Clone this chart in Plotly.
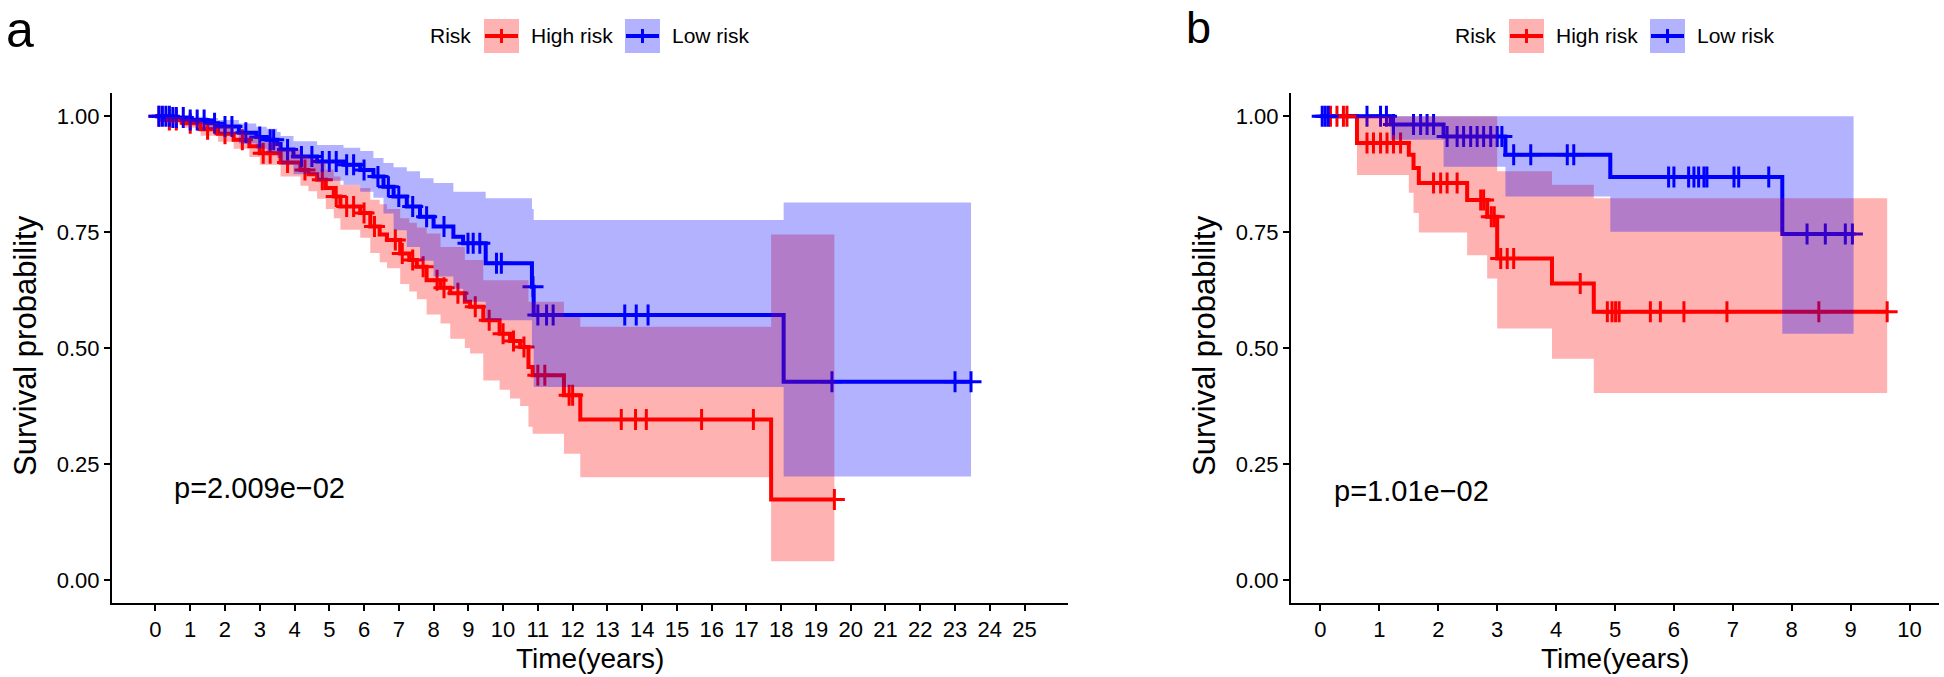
import numpy as np
import plotly.graph_objects as go

# ---------------- data ----------------
# Panel a, High risk
times_hi_a = [0, 0.3, 0.8, 1.3, 1.8, 2.25, 2.7, 3.0, 3.6, 4.17, 4.4, 4.65, 4.9, 5.13, 5.32, 5.89, 6.18, 6.45,
              6.66, 7.04, 7.3, 7.52, 7.8, 8.2, 8.48, 8.9, 9.05, 9.43, 9.9, 10.2, 10.49, 10.73, 10.85, 11.75, 12.22, 17.71]
surv_hi_a = [1.0, 0.992, 0.985, 0.972, 0.962, 0.949, 0.935, 0.92, 0.90, 0.884, 0.875, 0.863, 0.845, 0.827, 0.805,
             0.791, 0.762, 0.745, 0.733, 0.704, 0.69, 0.675, 0.646, 0.630, 0.618, 0.60, 0.589, 0.56, 0.531, 0.515,
             0.502, 0.459, 0.441, 0.398, 0.346, 0.173]
lower_hi_a = [1.0, 0.985, 0.975, 0.958, 0.945, 0.93, 0.912, 0.895, 0.87, 0.85, 0.838, 0.822, 0.80, 0.78, 0.755,
              0.738, 0.705, 0.685, 0.672, 0.638, 0.622, 0.605, 0.572, 0.553, 0.52, 0.50, 0.488, 0.43, 0.41, 0.391,
              0.375, 0.33, 0.315, 0.272, 0.221, 0.04]
upper_hi_a = [1.0, 0.998, 0.994, 0.985, 0.978, 0.966, 0.956, 0.944, 0.928, 0.915, 0.909, 0.90, 0.885, 0.87, 0.852,
              0.845, 0.82, 0.81, 0.80, 0.78, 0.77, 0.76, 0.747, 0.718, 0.718, 0.69, 0.69, 0.646, 0.646, 0.646,
              0.646, 0.60, 0.60, 0.567, 0.546, 0.745]
end_hi_a = 19.53
censor_hi_a = [0.1, 0.4, 0.6, 1.0, 1.5, 2.0, 2.5, 3.1, 3.3, 3.8, 4.3, 4.8, 5.2, 5.5, 5.7, 6.0, 6.3, 6.9, 7.1,
               7.4, 7.7, 8.1, 8.3, 8.7, 9.2, 9.6, 10.0, 10.3, 10.6, 11.0, 11.2, 11.9, 12.0, 13.4, 13.81, 14.12,
               15.71, 17.2, 19.53]

# Panel a, Low risk
times_lo_a = [0, 0.5, 1.0, 1.5, 1.8, 2.4, 2.9, 3.2, 3.5, 3.6, 3.97, 4.65, 5.41, 5.89, 6.27, 6.56, 6.85, 7.23,
              7.61, 8.0, 8.57, 8.85, 9.5, 10.83, 10.88, 18.07]
surv_lo_a = [1.0, 0.997, 0.992, 0.985, 0.978, 0.964, 0.955, 0.949, 0.94, 0.928, 0.913, 0.902, 0.895, 0.884, 0.87,
             0.848, 0.827, 0.805, 0.783, 0.762, 0.74, 0.726, 0.683, 0.632, 0.571, 0.427]
upper_lo_a = [1.0, 1.0, 0.999, 0.996, 0.992, 0.984, 0.977, 0.973, 0.966, 0.957, 0.946, 0.938, 0.932, 0.925, 0.91,
              0.899, 0.89, 0.881, 0.866, 0.856, 0.837, 0.837, 0.823, 0.80, 0.776, 0.814]
lower_lo_a = [1.0, 0.993, 0.983, 0.972, 0.962, 0.941, 0.930, 0.921, 0.91, 0.895, 0.875, 0.861, 0.852, 0.837,
              0.824, 0.79, 0.754, 0.718, 0.688, 0.654, 0.628, 0.60, 0.56, 0.50, 0.416, 0.223]
end_lo_a = 23.46
censor_lo_a = [0.1, 0.2, 0.3, 0.4, 0.5, 0.6, 0.8, 1.0, 1.2, 1.4, 1.7, 2.0, 2.2, 2.6, 3.0, 3.3, 3.4, 3.8, 4.2,
               4.5, 4.8, 5.0, 5.2, 5.5, 5.7, 6.0, 6.4, 6.7, 7.0, 7.4, 7.8, 8.3, 8.99, 9.14, 9.33, 9.81, 9.95,
               10.86, 11.0, 11.25, 11.44, 13.5, 13.83, 14.17, 19.46, 23.0, 23.46]

# Panel b, High risk
times_hi_b = [0, 0.62, 1.5, 1.58, 1.67, 2.49, 2.83, 3.0, 3.93, 4.64]
surv_hi_b = [1.0, 0.942, 0.917, 0.888, 0.856, 0.819, 0.783, 0.693, 0.639, 0.578]
upper_hi_b = [1.0, 1.0, 1.0, 1.0, 1.0, 1.0, 1.0, 0.881, 0.852, 0.823]
lower_hi_b = [1.0, 0.873, 0.835, 0.791, 0.749, 0.70, 0.65, 0.542, 0.477, 0.403]
end_hi_b = 9.62
censor_hi_b = [0.17, 0.28, 0.39, 0.45, 0.79, 0.9, 1.02, 1.13, 1.24, 1.36, 1.92, 2.04, 2.15, 2.32, 2.72, 2.77,
               2.9, 2.95, 3.06, 3.17, 3.28, 4.41, 4.87, 4.95, 5.01, 5.07, 5.6, 5.77, 6.17, 6.9, 8.46, 9.62]

# Panel b, Low risk
times_lo_b = [0, 1.19, 2.09, 3.14, 4.92, 7.84]
surv_lo_b = [1.0, 0.982, 0.956, 0.917, 0.869, 0.746]
upper_lo_b = [1.0, 1.0, 1.0, 1.0, 1.0, 1.0]
lower_lo_b = [1.0, 0.949, 0.891, 0.827, 0.751, 0.531]
end_lo_b = 9.05
censor_lo_b = [0.03, 0.08, 0.13, 0.79, 1.02, 1.12, 1.24, 1.58, 1.7, 1.81, 1.92, 2.15, 2.32, 2.43, 2.55, 2.66,
               2.77, 2.89, 3.0, 3.08, 3.28, 3.57, 4.19, 4.3, 5.91, 6.0, 6.25, 6.34, 6.42, 6.51, 6.56, 7.02, 7.1,
               7.61, 8.26, 8.57, 8.91, 9.03]

groups = ["High risk", "Low risk"]
legend_title = "Risk"
pvals = ["p=2.009e\u221202", "p=1.01e\u221202"]
xticks_a = list(range(0, 26))
xticks_b = list(range(0, 11))
yticks = [0.0, 0.25, 0.5, 0.75, 1.0]

# ---------------- styling ----------------
W, H = 1944, 677
FONT = "Liberation Sans, Arial, sans-serif"
RED, BLUE = "#FF0000", "#0000FF"
RED_F, BLUE_F = "rgba(255,0,0,0.3)", "rgba(0,0,255,0.3)"


def pxx(x):
    return x / W


def pxy(y):
    return 1 - y / H


def step_xy(times, vals, end):
    xs, ys = [], []
    for i, (t, v) in enumerate(zip(times, vals)):
        tn = times[i + 1] if i + 1 < len(times) else end
        xs += [t, tn]
        ys += [v, v]
    return xs, ys


def surv_at(times, vals, ts):
    idx = np.searchsorted(np.array(times), np.array(ts), side="right") - 1
    return [vals[i] for i in idx]


fig = go.Figure()


def add_panel(xa, ya, hi, lo):
    # hi / lo: (times, surv, upper, lower, end, censors)
    for (t, s, u, l, e, c), col in ((hi, RED), (lo, BLUE)):
        fig.add_trace(go.Scatter(x=list(t) + [e], y=list(s) + [s[-1]], mode="lines",
                                 line=dict(color=col, width=4, shape="hv"),
                                 xaxis=xa, yaxis=ya, showlegend=False, hoverinfo="skip"))
    for (t, s, u, l, e, c), col in ((hi, RED), (lo, BLUE)):
        fig.add_trace(go.Scatter(x=c, y=surv_at(t, s, c), mode="markers",
                                 marker=dict(symbol="cross-thin", size=15, line=dict(color=col, width=3)),
                                 xaxis=xa, yaxis=ya, showlegend=False, hoverinfo="skip"))
    for (t, s, u, l, e, c), fc in ((hi, RED_F), (lo, BLUE_F)):
        ux, uy = step_xy(t, u, e)
        lx, ly = step_xy(t, l, e)
        fig.add_trace(go.Scatter(x=ux + lx[::-1], y=uy + ly[::-1], mode="lines", fill="toself",
                                 fillcolor=fc, line=dict(width=0, color=fc),
                                 xaxis=xa, yaxis=ya, showlegend=False, hoverinfo="skip"))


add_panel("x", "y",
          (times_hi_a, surv_hi_a, upper_hi_a, lower_hi_a, end_hi_a, censor_hi_a),
          (times_lo_a, surv_lo_a, upper_lo_a, lower_lo_a, end_lo_a, censor_lo_a))
add_panel("x2", "y2",
          (times_hi_b, surv_hi_b, upper_hi_b, lower_hi_b, end_hi_b, censor_hi_b),
          (times_lo_b, surv_lo_b, upper_lo_b, lower_lo_b, end_lo_b, censor_lo_b))

ydom = [pxy(603), pxy(93)]
axis_common = dict(showline=True, linecolor="black", linewidth=2, ticks="outside", ticklen=6,
                   tickwidth=2, tickcolor="black", showgrid=False, zeroline=False,
                   tickfont=dict(family=FONT, size=22, color="black"), mirror=False)

fig.update_layout(
    width=W, height=H, margin=dict(l=0, r=0, t=0, b=0),
    paper_bgcolor="white", plot_bgcolor="white",
    xaxis=dict(domain=[pxx(112), pxx(1068)], range=[-1.25, 26.25], tickvals=xticks_a,
               anchor="y", **axis_common),
    yaxis=dict(domain=ydom, range=[-0.05, 1.05], tickvals=yticks, tickformat=".2f",
               anchor="x", **axis_common),
    xaxis2=dict(domain=[pxx(1291), pxx(1939)], range=[-0.5, 10.5], tickvals=xticks_b,
                anchor="y2", **axis_common),
    yaxis2=dict(domain=ydom, range=[-0.05, 1.05], tickvals=yticks, tickformat=".2f",
                anchor="x2", **axis_common),
    showlegend=False,
)

ann = []
shapes = []
# axis titles
for cx in (590, 1615):
    ann.append(dict(x=pxx(cx), y=pxy(658), xref="paper", yref="paper", text="Time(years)", showarrow=False,
                    xanchor="center", yanchor="middle", font=dict(family=FONT, size=28, color="black")))
for cx in (25, 1204):
    ann.append(dict(x=pxx(cx), y=pxy(346), xref="paper", yref="paper", text="Survival probability",
                    showarrow=False, textangle=-90, xanchor="center", yanchor="middle",
                    font=dict(family=FONT, size=31, color="black")))
# panel letters
ann.append(dict(x=pxx(20), y=1.0, xref="paper", yref="paper", text="a", showarrow=False,
                xanchor="center", yanchor="top", font=dict(family=FONT, size=50, color="black")))
ann.append(dict(x=pxx(1198), y=1.0, xref="paper", yref="paper", text="b", showarrow=False,
                xanchor="center", yanchor="top", font=dict(family=FONT, size=45, color="black")))
# p-values
ann.append(dict(x=0.49, y=0.197, xref="x", yref="y", text=pvals[0], showarrow=False,
                xanchor="left", yanchor="middle", font=dict(family=FONT, size=29, color="black")))
ann.append(dict(x=0.19, y=0.192, xref="x2", yref="y2", text=pvals[1], showarrow=False,
                xanchor="left", yanchor="middle", font=dict(family=FONT, size=29, color="black")))

# legends (drawn as keys + text above each panel)
for off in (0, 1025):
    ly = 36
    ann.append(dict(x=pxx(428 + off), y=pxy(ly), xref="paper", yref="paper", text=legend_title,
                    showarrow=False, xanchor="left", yanchor="middle",
                    font=dict(family=FONT, size=21, color="black")))
    for (bx, tx, fc, lc, name) in ((484, 529, RED_F, RED, groups[0]), (625, 670, BLUE_F, BLUE, groups[1])):
        shapes.append(dict(type="rect", xref="paper", yref="paper",
                           x0=pxx(bx + off), x1=pxx(bx + off + 35), y0=pxy(ly + 17), y1=pxy(ly - 17),
                           fillcolor=fc, line=dict(width=0)))
        shapes.append(dict(type="line", xref="paper", yref="paper",
                           x0=pxx(bx + off + 1), x1=pxx(bx + off + 34), y0=pxy(ly), y1=pxy(ly),
                           line=dict(color=lc, width=4)))
        shapes.append(dict(type="line", xref="paper", yref="paper",
                           x0=pxx(bx + off + 17.5), x1=pxx(bx + off + 17.5), y0=pxy(ly - 7), y1=pxy(ly + 7),
                           line=dict(color=lc, width=3)))
        ann.append(dict(x=pxx(tx + off), y=pxy(ly), xref="paper", yref="paper", text=name,
                        showarrow=False, xanchor="left", yanchor="middle",
                        font=dict(family=FONT, size=21, color="black")))

fig.update_layout(annotations=ann, shapes=shapes)
fig.write_html("out.html", config={"displayModeBar": False},
               post_script="document.body.style.margin='0';document.body.style.overflow='hidden';")
